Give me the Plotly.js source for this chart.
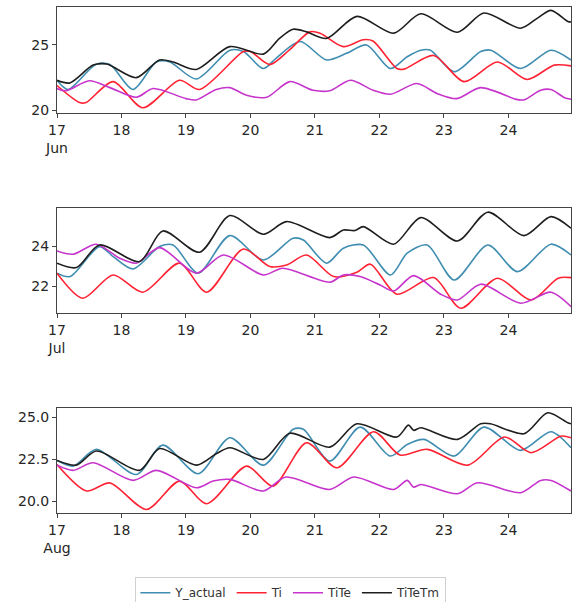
<!DOCTYPE html>
<html>
<head>
<meta charset="utf-8">
<script src="https://cdn.plot.ly/plotly-3.0.1.min.js"></script>
<style>html,body{margin:0;padding:0;background:#fff;}#chart{width:573px;height:602px;}</style>
</head>
<body>
<div id="chart"></div>
<script>
// ---- Data (x in day-of-month, fractional) ----
const months = ["Jun", "Jul", "Aug"];
const dayTicks = [17, 18, 19, 20, 21, 22, 23, 24];
const seriesNames = ["Y_actual", "Ti", "TiTe", "TiTeTm"];

// Panel 1: June
const junYactX = [17.0,17.17,17.6,17.82,18.18,18.54,18.75,19.16,19.68,19.89,20.2,20.4,20.77,21.18,21.49,21.8,22.17,22.43,22.64,22.79,23.16,23.57,23.73,24.19,24.66,24.97];
const junYactY = [22.3,21.6,23.5,23.5,21.6,23.7,23.7,22.4,24.6,24.5,23.2,24.0,25.26,23.85,24.36,25.0,23.2,24.1,24.6,24.6,22.95,24.5,24.6,23.2,24.6,23.85];
const junTiX = [17.0,17.35,17.45,17.87,18.33,18.9,19.21,19.89,20.0,20.3,20.6,20.92,21.08,21.44,21.75,21.9,22.27,22.38,22.84,23.31,23.83,24.29,24.71,24.97];
const junTiY = [21.9,20.6,20.6,22.2,20.2,22.3,21.6,24.5,24.5,23.5,24.6,26.0,25.9,24.87,25.4,25.3,23.2,23.15,24.2,22.2,23.7,22.36,23.46,23.4];
const junTiTeX = [17.0,17.14,17.5,17.82,18.23,18.49,19.0,19.16,19.47,19.68,19.94,20.25,20.61,20.97,21.23,21.55,21.9,22.17,22.58,22.9,23.2,23.57,24.14,24.25,24.5,24.66,24.87,24.97];
const junTiTeY = [21.67,21.5,22.26,21.74,21.0,21.67,20.9,20.8,21.6,21.74,21.15,21.0,22.2,21.54,21.5,22.3,21.54,21.23,22.05,21.28,20.9,21.74,20.82,20.82,21.54,21.59,20.97,20.85];
const junTiTeTmX = [17.0,17.2,17.56,17.77,18.23,18.59,18.8,19.16,19.68,20.2,20.45,20.66,20.87,21.18,21.65,22.22,22.64,23.21,23.62,24.19,24.45,24.66,24.92,24.97];
const junTiTeTmY = [22.3,22.1,23.46,23.54,22.5,23.85,23.7,23.13,24.87,24.3,25.5,26.2,26.0,25.5,27.18,25.9,27.38,25.97,27.44,26.28,27.05,27.64,26.8,26.75];

// Panel 2: July
const julYactX = [17.0,17.2,17.66,17.87,18.18,18.59,18.8,19.19,19.68,20.2,20.66,20.82,21.18,21.44,21.75,22.17,22.43,22.74,23.16,23.68,24.14,24.66,24.97];
const julYactY = [22.67,22.5,24.0,23.5,22.88,24.0,24.08,22.67,24.55,23.33,24.42,24.33,23.17,23.92,24.08,22.58,23.67,24.08,22.33,24.08,22.75,24.12,23.58];
const julTiX = [17.0,17.4,17.87,18.33,18.9,19.32,19.89,20.3,20.56,20.87,21.29,21.65,21.86,22.27,22.84,23.26,23.83,24.35,24.77,24.97];
const julTiY = [22.67,21.42,22.58,21.72,23.17,21.72,23.88,23.0,23.08,23.58,22.5,22.72,23.12,21.62,22.45,20.92,22.42,21.33,22.42,22.45];
const julTiTeX = [17.0,17.25,17.61,17.97,18.23,18.59,19.16,19.58,20.2,20.5,21.23,21.44,21.7,22.01,22.22,22.53,22.95,23.21,23.57,24.19,24.66,24.97];
const julTiTeY = [23.78,23.62,24.12,23.42,23.17,23.95,22.67,23.58,22.58,22.92,22.22,22.58,22.5,22.08,21.78,22.55,21.62,21.33,22.12,21.17,21.72,21.0];
const julTiTeTmX = [17.0,17.3,17.66,18.28,18.64,19.21,19.68,20.2,20.56,21.23,21.44,21.62,21.75,22.22,22.64,23.21,23.68,24.24,24.66,24.97];
const julTiTeTmY = [23.17,22.95,24.08,23.25,24.78,23.72,25.55,24.62,25.25,24.45,24.83,24.8,25.0,24.12,25.45,24.28,25.72,24.55,25.5,24.92];

// Panel 3: August
const augYactX = [17.0,17.25,17.61,18.23,18.64,19.19,19.68,20.2,20.66,20.82,21.23,21.7,22.17,22.43,22.69,23.16,23.62,24.19,24.66,24.97];
const augYactY = [22.44,22.1,23.1,21.6,23.35,21.65,23.79,22.16,24.29,24.29,22.4,24.42,22.7,23.39,23.69,22.7,24.42,23.04,24.15,23.19];
const augTiX = [17.0,17.46,17.82,18.39,18.9,19.32,19.94,20.35,20.87,21.34,21.91,22.32,22.74,23.37,23.94,24.35,24.82,24.97];
const augTiY = [22.2,20.62,21.1,19.52,21.21,19.86,22.1,20.91,23.49,22.0,24.15,22.76,23.1,22.16,23.83,22.9,23.89,23.79];
const augTiTeX = [17.0,17.25,17.56,18.18,18.54,19.16,19.42,19.68,20.2,20.55,21.23,21.6,22.22,22.43,22.53,22.64,23.21,23.52,24.19,24.5,24.66,24.97];
const augTiTeY = [22.16,21.85,22.3,21.25,21.85,20.81,21.21,21.31,20.62,21.45,20.71,21.45,20.71,21.25,20.85,21.01,20.46,21.11,20.52,21.25,21.25,20.62];
const augTiTeTmX = [17.0,17.3,17.61,18.28,18.59,19.16,19.47,19.68,20.2,20.61,21.23,21.65,22.27,22.45,22.53,22.64,23.21,23.57,23.72,24.24,24.61,24.92,24.97];
const augTiTeTmY = [22.44,22.16,23.0,21.85,23.15,22.16,22.84,23.19,22.5,24.06,23.23,24.62,23.83,24.54,24.23,24.38,23.69,24.62,24.62,24.03,25.28,24.68,24.62];

const panels = [
  {month: months[0], xs: [junYactX, junTiX, junTiTeX, junTiTeTmX], ys: [junYactY, junTiY, junTiTeY, junTiTeTmY], yr: [19.8, 27.9], ytv: [20, 25], ytt: ["20", "25"]},
  {month: months[1], xs: [julYactX, julTiX, julTiTeX, julTiTeTmX], ys: [julYactY, julTiY, julTiTeY, julTiTeTmY], yr: [20.68, 25.93], ytv: [22, 24], ytt: ["22", "24"]},
  {month: months[2], xs: [augYactX, augTiX, augTiTeX, augTiTeTmX], ys: [augYactY, augTiY, augTiTeY, augTiTeTmY], yr: [19.31, 25.56], ytv: [20, 22.5, 25], ytt: ["20.0", "22.5", "25.0"]}
];

const colors = ["#3f8db0", "#ff2233", "#c634cc", "#1e1e1e"];
const domains = [[0.7905, 1.0], [0.3953, 0.6028], [0.0, 0.2075]];

const traces = [];
const layout = {
  width: 573, height: 602,
  margin: {l: 57, r: 2, t: 7, b: 89, autoexpand: false},
  paper_bgcolor: "#fff", plot_bgcolor: "#fff",
  font: {family: "DejaVu Sans, sans-serif", size: 13, color: "#262626"},
  showlegend: true,
  legend: {
    orientation: "h", x: 0.455, xanchor: "center", y: -0.127, yanchor: "top",
    bordercolor: "#d0d0d0", borderwidth: 1, bgcolor: "#fff",
    font: {size: 12, color: "#333"}, tracegroupgap: 0
  }
};

panels.forEach((p, i) => {
  const n = i + 1;
  const xa = "x" + (n === 1 ? "" : n), ya = "y" + (n === 1 ? "" : n);
  for (let s = 0; s < 4; s++) {
    traces.push({
      type: "scatter", mode: "lines", name: seriesNames[s],
      x: p.xs[s], y: p.ys[s], xaxis: xa, yaxis: ya,
      line: {color: colors[s], width: 1.6, shape: "spline", smoothing: 0.8},
      showlegend: i === 0, legendgroup: seriesNames[s]
    });
  }
  const ticktext = dayTicks.map((d, k) => k === 0 ? d + "<br>" + p.month : String(d));
  layout["xaxis" + (n === 1 ? "" : n)] = {
    domain: [0, 1], anchor: ya, range: [17, 24.97],
    tickmode: "array", tickvals: dayTicks, ticktext: ticktext,
    showgrid: false, zeroline: false, showline: true, mirror: true,
    linecolor: "#444", linewidth: 1, ticks: "outside", ticklen: 4, tickcolor: "#444",
    tickfont: {size: 14, color: "#262626"}
  };
  layout["yaxis" + (n === 1 ? "" : n)] = {
    domain: domains[i], anchor: xa, range: p.yr,
    tickmode: "array", tickvals: p.ytv, ticktext: p.ytt,
    showgrid: false, zeroline: false, showline: true, mirror: true,
    linecolor: "#444", linewidth: 1, ticks: "outside", ticklen: 4, tickcolor: "#444",
    tickfont: {size: 14, color: "#262626"}
  };
});

Plotly.newPlot("chart", traces, layout, {displayModeBar: false, staticPlot: true});
</script>
</body>
</html>
